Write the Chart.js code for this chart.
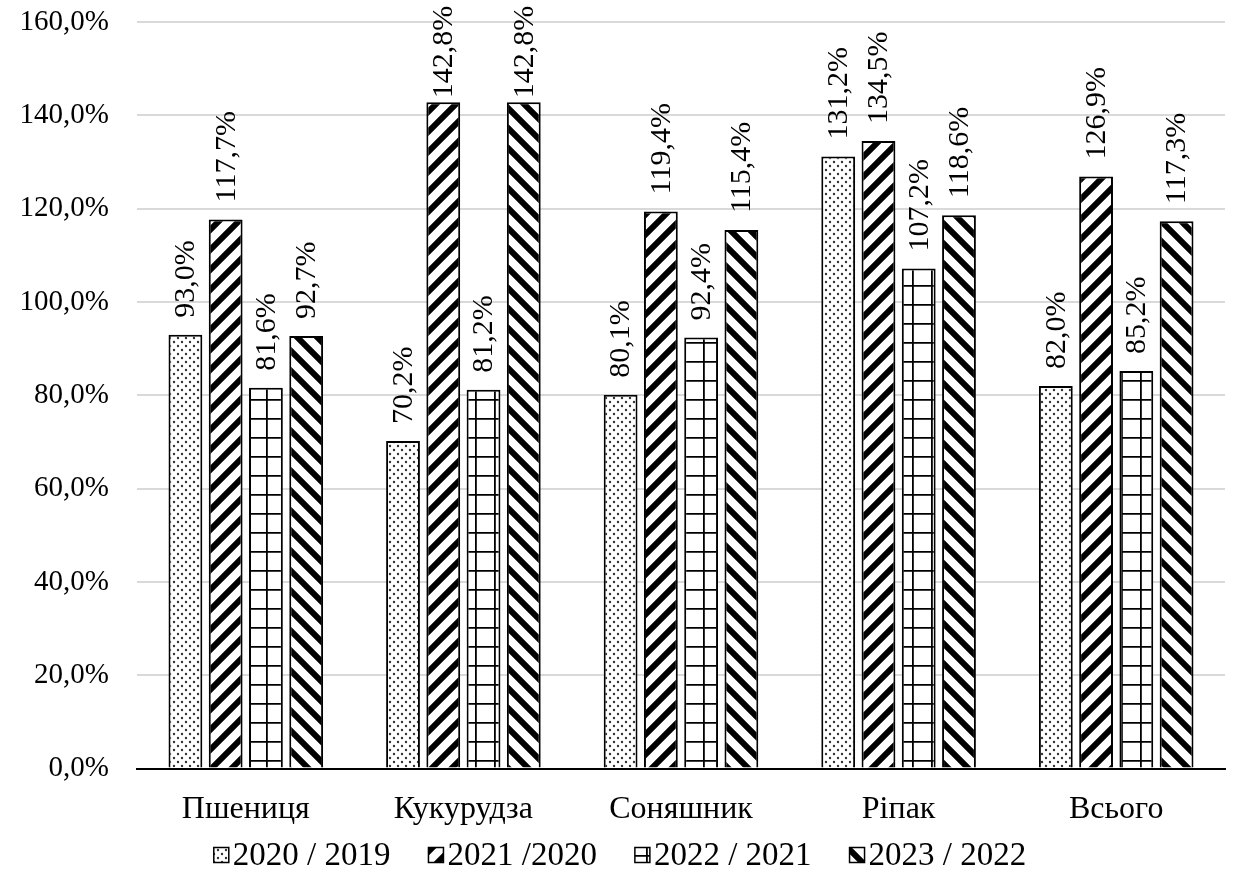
<!DOCTYPE html>
<html>
<head>
<meta charset="utf-8">
<script src="https://cdn.jsdelivr.net/npm/chart.js@4"></script>
<style>
  body { margin: 0; background: #fff; }
  #wrap { width: 1246px; height: 870px; }
</style>
</head>
<body>
<div id="wrap"><canvas id="chart"></canvas></div>
<script>
const categories = ['Пшениця', 'Кукурудза', 'Соняшник', 'Ріпак', 'Всього'];
const seriesNames = ['2020 / 2019', '2021 /2020', '2022 / 2021', '2023 / 2022'];
const s2020 = [93.0, 70.2, 80.1, 131.2, 82.0];
const s2021 = [117.7, 142.8, 119.4, 134.5, 126.9];
const s2022 = [81.6, 81.2, 92.4, 107.2, 85.2];
const s2023 = [92.7, 142.8, 115.4, 118.6, 117.3];
const yMin = 0, yMax = 160, yStep = 20;

const FONT = '"Liberation Serif", "Times New Roman", serif';

function fmt(v) {
    return v.toFixed(1).replace('.', ',') + '%';
}

// hatch patterns like the Excel fills
function makePattern(kind) {
    const c = document.createElement('canvas');
    const size = kind === 'dots' ? 8 : (kind === 'grid' ? 19 : 20);
    c.width = size; c.height = size;
    const g = c.getContext('2d');
    g.fillStyle = '#fff';
    g.fillRect(0, 0, size, size);
    g.fillStyle = '#000';
    g.strokeStyle = '#000';
    if (kind === 'dots') {
        g.fillStyle = '#333';
        g.beginPath(); g.arc(2, 2, 1.2, 0, Math.PI * 2); g.fill();
        g.beginPath(); g.arc(6, 6, 1.2, 0, Math.PI * 2); g.fill();
    } else if (kind === 'grid') {
        g.lineWidth = 1.8;
        g.beginPath();
        g.moveTo(0.9, 0); g.lineTo(0.9, size);
        g.moveTo(0, 0.9); g.lineTo(size, 0.9);
        g.stroke();
    } else {
        g.lineWidth = 6;
        g.beginPath();
        if (kind === 'fwd') {
            g.moveTo(-size, size * 2); g.lineTo(size * 2, -size);
            g.moveTo(-size, size); g.lineTo(size, -size);
            g.moveTo(0, size * 2); g.lineTo(size * 2, 0);
        } else {
            g.moveTo(-size, -size); g.lineTo(size * 2, size * 2);
            g.moveTo(-size, 0); g.lineTo(size, size * 2);
            g.moveTo(0, -size); g.lineTo(size * 2, size);
        }
        g.stroke();
    }
    return g.createPattern(c, 'repeat');
}

const ctxMain = document.getElementById('chart').getContext('2d');
const fills = [makePattern('dots'), makePattern('fwd'), makePattern('grid'), makePattern('back')];
const seriesValues = [s2020, s2021, s2022, s2023];

// vertical value labels above bars
const barLabels = {
    id: 'barLabels',
    afterDatasetsDraw(chart) {
        const ctx = chart.ctx;
        ctx.save();
        ctx.font = '30px ' + FONT;
        ctx.fillStyle = '#000';
        ctx.textAlign = 'left';
        ctx.textBaseline = 'middle';
        chart.data.datasets.forEach((ds, i) => {
            const meta = chart.getDatasetMeta(i);
            meta.data.forEach((bar, j) => {
                const txt = fmt(ds.data[j]);
                const w = ctx.measureText(txt).width;
                let gap = 17;
                if (bar.y - gap - w < 0) gap = 4;
                ctx.save();
                ctx.translate(bar.x + 1, bar.y - gap);
                ctx.rotate(-Math.PI / 2);
                ctx.fillText(txt, 0, 0);
                ctx.restore();
            });
        });
        ctx.restore();
    }
};

// legend drawn by hand so the box sits close to its text
const bottomLegend = {
    id: 'bottomLegend',
    afterDraw(chart) {
        const ctx = chart.ctx;
        ctx.save();
        ctx.font = '33px ' + FONT;
        ctx.textBaseline = 'middle';
        ctx.textAlign = 'left';
        const box = 15, boxGap = 4, itemGap = 38;
        const widths = seriesNames.map(n => ctx.measureText(n).width);
        let total = 0;
        widths.forEach((w, i) => { total += box + boxGap + w + (i ? itemGap : 0); });
        let x = chart.width / 2 - total / 2 - 3;
        const y = 855;
        seriesNames.forEach((name, i) => {
            ctx.fillStyle = fills[i];
            ctx.fillRect(x, y - box / 2, box, box);
            ctx.strokeStyle = '#000';
            ctx.lineWidth = 1.5;
            ctx.strokeRect(x, y - box / 2, box, box);
            ctx.fillStyle = '#000';
            ctx.fillText(name, x + box + boxGap, y + 1);
            x += box + boxGap + widths[i] + itemGap;
        });
        ctx.restore();
    }
};

new Chart(ctxMain, {
    type: 'bar',
    data: {
        labels: categories,
        datasets: seriesNames.map((name, i) => ({
            label: name,
            data: seriesValues[i],
            backgroundColor: fills[i],
            borderColor: '#000',
            borderWidth: 2,
            categoryPercentage: 0.74,
            barPercentage: 0.84
        }))
    },
    options: {
        responsive: true,
        maintainAspectRatio: false,
        animation: false,
        layout: { padding: { top: 22, right: 21, left: 0, bottom: 19 } },
        plugins: {
            legend: { display: false },
            tooltip: { enabled: false }
        },
        scales: {
            x: {
                grid: { display: false, drawTicks: false },
                border: { display: true, color: '#000', width: 2 },
                ticks: {
                    color: '#000',
                    font: { family: FONT, size: 32 },
                    padding: 22
                }
            },
            y: {
                min: yMin,
                max: yMax,
                afterFit: scale => {
                    scale.width = 137;
                    scale.paddingTop = 0;
                    scale.paddingBottom = 0;
                },
                grid: { color: '#d9d9d9', lineWidth: 2, drawTicks: false },
                border: { display: false },
                ticks: {
                    stepSize: yStep,
                    color: '#000',
                    font: { family: FONT, size: 29 },
                    padding: 28,
                    callback: v => fmt(v)
                }
            }
        }
    },
    plugins: [barLabels, bottomLegend]
});
</script>
</body>
</html>
